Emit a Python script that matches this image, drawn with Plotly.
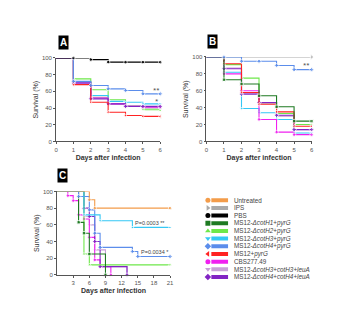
import plotly.graph_objects as go

W, H = 350, 327

# ---------------- data ----------------
DAYS_AB = [0, 1, 2, 3, 4, 5, 6]

A_PBS = [100, 100, 98, 95, 95, 95, 95]
A_H4 = [100, 72, 67, 63, 61, 57, 57]
A_H3 = [100, 70, 55, 48, 47, 45, 45]
A_H2 = [100, 75, 62, 50, 42, 38, 37]
A_GREY = [100, 71, 53, 45, 42, 40, 40]
A_CBS = [100, 70, 52, 45, 42, 41, 41]
A_H4C = [100, 70, 51, 45, 42, 42, 42]
A_MS12 = [100, 68, 47, 35, 31, 30, 30]

B_IPS = [100, 100, 100, 100, 100, 100, 100]
B_H4 = [100, 100, 95, 95, 90, 85, 85]
B_H1 = [100, 73, 68, 54, 41, 24, 24]
B_H2 = [100, 91, 75, 46, 33, 20, 20]
B_MS12 = [100, 92, 58, 44, 35, 18, 18]
B_H3C = [100, 87, 57, 46, 30, 14, 14]
B_H3 = [100, 82, 39, 34, 26, 10, 10]
B_CBS = [100, 80, 60, 26, 11, 8, 8]
B_H4C = [100, 86, 56, 46, 31, 14, 14]

C_UNT_T, C_UNT_S = [0, 6, 7, 21], [100, 90, 80, 80]
C_H1_T, C_H1_S = [0, 4, 5, 6, 9], [100, 63, 50, 25, 0]
C_H2_T, C_H2_S = [0, 5, 6, 21], [100, 25, 12, 12]
C_H3_T, C_H3_S = [0, 5, 8, 14, 21], [100, 72, 65, 57, 57]
C_H4_T, C_H4_S = [0, 4, 6, 7, 8, 14, 15, 21], [100, 94, 78, 50, 33, 28, 22, 22]
C_CBS_T, C_CBS_S = [0, 2, 3, 4, 5, 6, 7, 8, 10], [100, 95, 89, 72, 67, 45, 18, 10, 0]
C_H3C_T, C_H3C_S = [0, 5, 6, 7, 9, 13], [100, 70, 60, 30, 10, 0]
C_H4C_T, C_H4C_S = [0, 5, 6, 7, 8, 13], [100, 80, 70, 40, 10, 0]

Y_TICKS = [0, 20, 40, 60, 80, 100]
AB_X_TICKS = [0, 1, 2, 3, 4, 5, 6]
C_X_TICKS = [3, 6, 9, 12, 15, 18, 21]

LEGEND_NAMES = ["Untreated", "IPS", "PBS",
                "MS12-<i>ΔcotH1</i>+<i>pyrG</i>", "MS12-<i>ΔcotH2</i>+<i>pyrG</i>",
                "MS12-<i>ΔcotH3</i>+<i>pyrG</i>", "MS12-<i>ΔcotH4</i>+<i>pyrG</i>",
                "MS12+<i>pyrG</i>", "CBS277.49",
                "MS12-<i>ΔcotH3</i>+<i>cotH3</i>+<i>leuA</i>",
                "MS12-<i>ΔcotH4</i>+<i>cotH4</i>+<i>leuA</i>"]

# ---------------- styles ----------------
COL = dict(UNT="#F39C4A", IPS="#AAAAAA", PBS="#000000", H1="#1E7A22", H2="#6EE84A",
           H3="#35C8F5", H4="#5B8DEB", MS12="#FF2222", CBS="#F020F0", H3C="#C8A0D8",
           H4C="#8224C4", GREY="#999999")
SYM = dict(UNT="circle", IPS="triangle-right", PBS="circle", H1="square", H2="triangle-up",
           H3="triangle-down", H4="diamond", MS12="triangle-left", CBS="circle",
           H3C="triangle-down", H4C="diamond", GREY="circle")
LEG_KEYS = ["UNT", "IPS", "PBS", "H1", "H2", "H3", "H4", "MS12", "CBS", "H3C", "H4C"]

fig = go.Figure()


def km(x, y, key, xa, ya, marker_all=True):
    sizes = [0] + [3.5] * (len(x) - 1) if marker_all else [0] * (len(x) - 1) + [5]
    fig.add_trace(go.Scatter(
        x=x, y=y, mode="lines+markers", line=dict(color=COL[key], width=1.1, shape="hv"),
        marker=dict(symbol=SYM[key], size=sizes, color=COL[key]),
        xaxis=xa, yaxis=ya, showlegend=False, cliponaxis=False, hoverinfo="skip"))


# Panel A
for ys, k in [(A_GREY, "GREY"), (A_H2, "H2"), (A_H3, "H3"), (A_CBS, "CBS"), (A_H4C, "H4C"),
              (A_MS12, "MS12"), (A_H4, "H4"), (A_PBS, "PBS")]:
    km(DAYS_AB, ys, k, "x", "y")

# Panel B
km(DAYS_AB, B_IPS, "IPS", "x2", "y2", marker_all=False)
for ys, k in [(B_H2, "H2"), (B_H3C, "H3C"), (B_H3, "H3"), (B_CBS, "CBS"), (B_H4C, "H4C"),
              (B_MS12, "MS12"), (B_H1, "H1"), (B_H4, "H4")]:
    km(DAYS_AB, ys, k, "x2", "y2")

# Panel C
for (t, s), k in [((C_H3C_T, C_H3C_S), "H3C"), ((C_CBS_T, C_CBS_S), "CBS"),
                  ((C_H4C_T, C_H4C_S), "H4C"), ((C_H2_T, C_H2_S), "H2"),
                  ((C_H1_T, C_H1_S), "H1"), ((C_H4_T, C_H4_S), "H4"),
                  ((C_H3_T, C_H3_S), "H3"), ((C_UNT_T, C_UNT_S), "UNT")]:
    km(t, s, k, "x3", "y3")

# Legend (drawn manually, pixel units in axis 4)
for i, k in enumerate(LEG_KEYS):
    fig.add_trace(go.Scatter(x=[213, 230], y=[i, i], mode="lines",
                             line=dict(color=COL[k], width=4), xaxis="x4", yaxis="y4",
                             showlegend=False, hoverinfo="skip"))
    fig.add_trace(go.Scatter(x=[209.5], y=[i], mode="markers",
                             marker=dict(symbol=SYM[k], size=5, color=COL[k]),
                             xaxis="x4", yaxis="y4", showlegend=False, hoverinfo="skip",
                             cliponaxis=False))

FONT = "Liberation Sans, Arial, sans-serif"
TICKF = dict(size=6, color="#555", family=FONT)
TITLEF = dict(size=7, color="#333", family=FONT)


def yax(top, bot):
    return dict(domain=[1 - bot / H, 1 - top / H], range=[0, 100], tickvals=Y_TICKS,
                ticks="outside", ticklen=2, tickwidth=0.8, tickcolor="#555",
                showline=True, linecolor="#555", linewidth=0.8, showgrid=False,
                zeroline=False, tickfont=TICKF, fixedrange=True,
                title=dict(text="Survival (%)", font=TITLEF, standoff=2))


def xax(l, r, rng, tv, anchor):
    return dict(domain=[l / W, r / W], range=rng, tickvals=tv, ticks="outside", ticklen=2,
                tickwidth=0.8, tickcolor="#555", showline=True, linecolor="#555",
                linewidth=0.8, showgrid=False, zeroline=False, tickfont=TICKF,
                anchor=anchor, fixedrange=True,
                title=dict(text="<b>Days after infection</b>", font=TITLEF, standoff=3))


ann = []
for txt, xp, yp in [("A", 63, 40), ("B", 214, 39), ("C", 62, 175.5)]:
    ann.append(dict(text="<b>" + txt + "</b>", x=xp / W, y=1 - yp / H, xref="paper",
                    yref="paper", xanchor="center", yanchor="middle", showarrow=False,
                    bgcolor="black", font=dict(color="white", size=10, family=FONT),
                    borderpad=1))
for i, name in enumerate(LEGEND_NAMES):
    ann.append(dict(text=name, x=234, y=i, xref="x4", yref="y4", xanchor="left",
                    showarrow=False, font=dict(size=6.3, color="#444", family=FONT)))
ann += [
    dict(text="**", x=5.8, y=62, xref="x", yref="y", showarrow=False,
         font=dict(size=6, color="#333")),
    dict(text="*", x=5.8, y=49, xref="x", yref="y", showarrow=False,
         font=dict(size=6, color="#333")),
    dict(text="**", x=5.7, y=91, xref="x2", yref="y2", showarrow=False,
         font=dict(size=6, color="#333")),
    dict(text="P=0.0003 **", x=14.1, y=62, xref="x3", yref="y3", xanchor="left",
         showarrow=False, font=dict(size=5.5, color="#444", family=FONT)),
    dict(text="P=0.0034 *", x=15.3, y=27, xref="x3", yref="y3", xanchor="left",
         showarrow=False, font=dict(size=5.5, color="#444", family=FONT)),
]

fig.update_layout(
    width=W, height=H, margin=dict(l=0, r=0, t=0, b=0), paper_bgcolor="white",
    plot_bgcolor="white", showlegend=False,
    xaxis=xax(55, 161, [0, 6], AB_X_TICKS, "y"), yaxis=yax(56, 141),
    xaxis2=xax(208, 315, [0, 6], AB_X_TICKS, "y2"), yaxis2=yax(55, 141),
    xaxis3=xax(56, 171, [0, 21], C_X_TICKS, "y3"), yaxis3=yax(192, 277),
    xaxis4=dict(domain=[205 / W, 1], range=[205, 350], visible=False, fixedrange=True),
    yaxis4=dict(domain=[1 - 283 / H, 1 - 197 / H], range=[10.5, -0.5], visible=False,
                fixedrange=True, anchor="x4"),
    annotations=ann,
)
fig.update_layout(yaxis=dict(anchor="x"), yaxis2=dict(anchor="x2"), yaxis3=dict(anchor="x3"))

fig.write_html("out.html")
